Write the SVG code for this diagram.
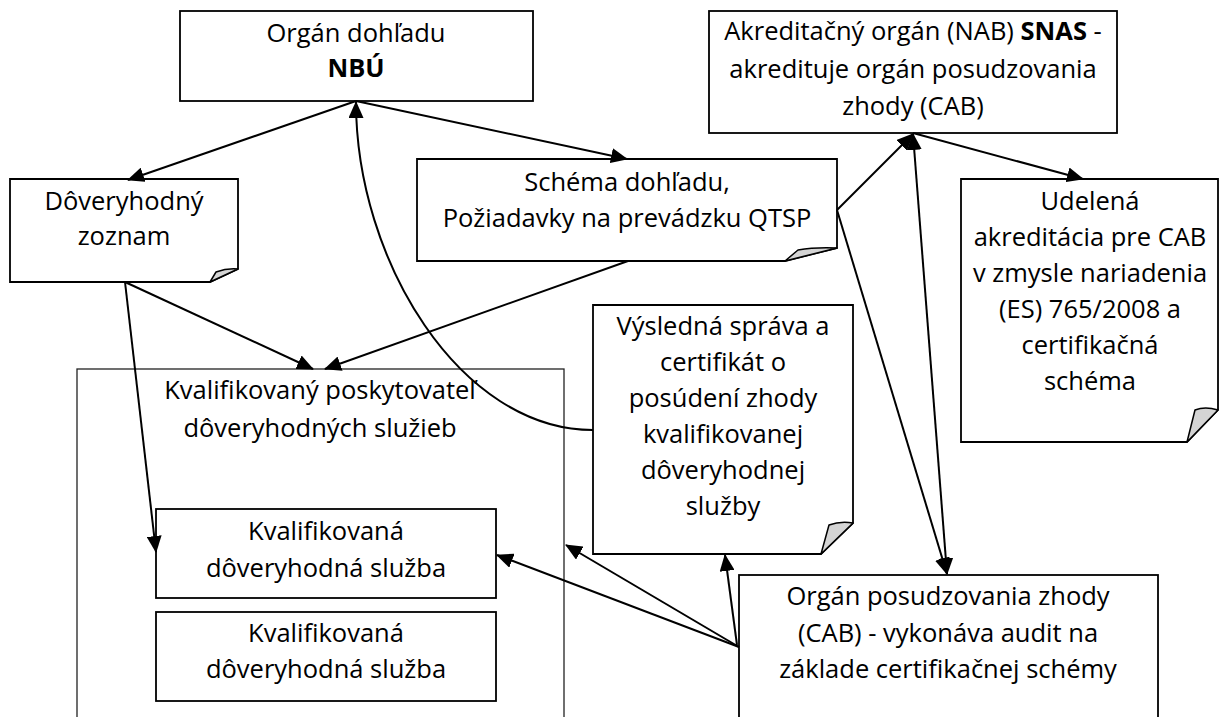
<svg xmlns="http://www.w3.org/2000/svg" width="1219" height="717" viewBox="0 0 1219 717">
<style>
.box{fill:#fff;stroke:#000;stroke-width:1.8}
.cont{fill:#fff;stroke:#222;stroke-width:1.3}
.fold{fill:#d4d4d4;stroke:#000;stroke-width:1.5;stroke-linejoin:round}
text{font-family:"Open Sans","Noto Sans",sans-serif;font-size:25.5px;fill:#000;text-anchor:middle}
.b{font-weight:bold}
.c{fill:none;stroke:#000;stroke-width:2}
</style>
<defs>
<marker id="ah" markerWidth="17" markerHeight="15" refX="16" refY="7.5" orient="auto-start-reverse" markerUnits="userSpaceOnUse">
<path d="M0,0 L17,7.5 L0,15 z" fill="#000"/>
</marker>
</defs>
<g id="qtsp">
<rect class="cont" x="77" y="369" width="487" height="360"/>
<text x="320" y="399">Kvalifikovaný poskytovateľ</text>
<text x="320" y="437">dôveryhodných služieb</text>
</g>
<g id="sluzba1">
<rect class="box" x="156" y="509" width="340" height="89"/>
<text x="326" y="540">Kvalifikovaná</text>
<text x="326" y="577">dôveryhodná služba</text>
</g>
<g id="sluzba2">
<rect class="box" x="156" y="612" width="340" height="89"/>
<text x="326" y="642">Kvalifikovaná</text>
<text x="326" y="678">dôveryhodná služba</text>
</g>
<g id="nbu">
<rect class="box" x="180" y="11" width="353" height="90"/>
<text x="356" y="42">Orgán dohľadu</text>
<text x="356" y="77" class="b">NBÚ</text>
</g>
<g id="zoznam">
<path class="box" d="M10,179 H238 V269 L210,282 H10 Z"/>
<path class="fold" d="M210,282 L216,272 Q227,268 238,269 Z"/>
<text x="124" y="210">Dôveryhodný</text>
<text x="124" y="245">zoznam</text>
</g>
<g id="schema">
<path class="box" d="M417,159 H837 V248 L785,261 H417 Z"/>
<path class="fold" d="M785,261 L798,250 Q815,247 837,248 Z"/>
<text x="627" y="191">Schéma dohľadu,</text>
<text x="627" y="227">Požiadavky na prevádzku QTSP</text>
</g>
<g id="snas">
<rect class="box" x="709" y="11" width="408" height="122"/>
<text x="913" y="40">Akreditačný orgán (NAB) <tspan class="b">SNAS</tspan> -</text>
<text x="913" y="78">akredituje orgán posudzovania</text>
<text x="913" y="115">zhody (CAB)</text>
</g>
<g id="akreditacia">
<path class="box" d="M961,179 H1218 V410 L1187,442 H961 Z"/>
<path class="fold" d="M1187,442 L1195,410 Q1205,406 1218,410 Z"/>
<text x="1090" y="210">Udelená</text>
<text x="1090" y="246">akreditácia pre CAB</text>
<text x="1090" y="282">v zmysle nariadenia</text>
<text x="1090" y="318">(ES) 765/2008 a</text>
<text x="1090" y="354">certifikačná</text>
<text x="1090" y="390">schéma</text>
</g>
<g id="sprava">
<path class="box" d="M593,305 H853 V523 L821,554 H593 Z"/>
<path class="fold" d="M821,554 L829,525 Q840,521 853,523 Z"/>
<text x="723" y="335">Výsledná správa a</text>
<text x="723" y="371">certifikát o</text>
<text x="723" y="407">posúdení zhody</text>
<text x="723" y="443">kvalifikovanej</text>
<text x="723" y="479">dôveryhodnej</text>
<text x="723" y="515">služby</text>
</g>
<g id="cab">
<rect class="box" x="739" y="575" width="419" height="160"/>
<text x="948" y="605">Orgán posudzovania zhody</text>
<text x="948" y="642">(CAB) - vykonáva audit na</text>
<text x="948" y="678">základe certifikačnej schémy</text>
</g>
<g id="connectors">
<path class="c" d="M356,101 L128,180" marker-end="url(#ah)"/>
<path class="c" d="M356,101 L627,159" marker-end="url(#ah)"/>
<path class="c" d="M593,430 C460,430 356,260 356,102" marker-end="url(#ah)"/>
<path class="c" d="M125,282 L313,369" marker-end="url(#ah)"/>
<path class="c" d="M125,282 L156,552" marker-end="url(#ah)"/>
<path class="c" d="M628,261 L325,369" marker-end="url(#ah)"/>
<path class="c" d="M837,210 L913,134" marker-end="url(#ah)"/>
<path class="c" d="M837,210 L947,574" marker-end="url(#ah)"/>
<path class="c" d="M913,134 L947,574" marker-start="url(#ah)" marker-end="url(#ah)"/>
<path class="c" d="M913,133 L1083,179" marker-end="url(#ah)"/>
<path class="c" d="M739,647 L497,555" marker-end="url(#ah)"/>
<path class="c" d="M739,647 L566,545" marker-end="url(#ah)"/>
<path class="c" d="M737,645 L725,555" marker-end="url(#ah)"/>
</g>
</svg>
